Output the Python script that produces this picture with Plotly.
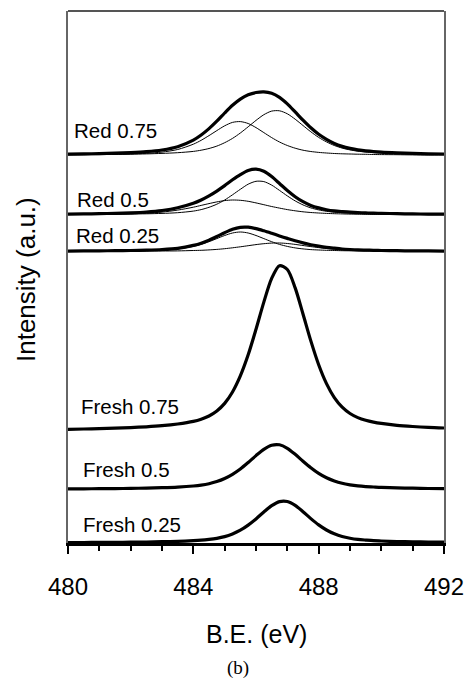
import plotly.graph_objects as go

# Binding energy grid (eV)
be = [480.0, 480.5, 481.0, 481.5, 482.0, 482.5, 483.0, 483.5,
      484.0, 484.25, 484.5, 484.75, 485.0, 485.25, 485.5, 485.75,
      486.0, 486.25, 486.5, 486.75, 487.0, 487.25, 487.5, 487.75,
      488.0, 488.25, 488.5, 488.75, 489.0, 489.25, 489.5, 489.75,
      490.0, 490.5, 491.0, 491.5, 492.0]

# Intensities (a.u.)
fresh_075 = [1.7, 2.0, 2.4, 2.8, 3.4, 4.2, 5.3, 7.0,
             9.6, 11.8, 15.0, 20.0, 27.6, 39.0, 55.1, 76.2,
             101.7, 128.9, 152.6, 165.3, 161.5, 143.1, 117.0, 90.1,
             66.3, 47.4, 33.4, 23.8, 17.5, 13.4, 10.7, 8.9,
             7.6, 5.7, 4.5, 3.6, 3.0]
fresh_05 = [0.6, 0.7, 0.8, 0.9, 1.1, 1.4, 1.8, 2.4,
            3.5, 4.4, 5.8, 7.9, 11.0, 15.2, 20.5, 27.0,
            33.9, 40.2, 44.3, 44.7, 41.2, 35.2, 28.3, 21.8,
            16.1, 11.7, 8.5, 6.2, 4.7, 3.6, 2.9, 2.5,
            2.1, 1.6, 1.3, 1.0, 0.9]
fresh_025 = [0.4, 0.5, 0.6, 0.7, 0.8, 1.0, 1.3, 1.7,
             2.3, 2.8, 3.6, 4.7, 6.4, 9.1, 12.8, 17.9,
             24.1, 31.0, 37.3, 41.4, 41.5, 37.6, 31.3, 24.4,
             18.1, 13.0, 9.2, 6.5, 4.8, 3.6, 2.9, 2.3,
             2.0, 1.5, 1.2, 0.9, 0.8]

red075_env = [1.4, 1.6, 1.9, 2.3, 2.9, 3.8, 5.5, 8.8,
              15.4, 20.5, 26.9, 34.3, 42.5, 50.2, 56.4, 60.7,
              63.0, 63.7, 62.3, 58.2, 51.7, 43.6, 35.3, 27.7,
              21.2, 16.1, 12.0, 9.1, 7.1, 5.6, 4.7, 3.9,
              3.3, 2.6, 2.1, 1.7, 1.5]
red075_c1 = [0.7, 0.8, 1.0, 1.2, 1.6, 2.2, 3.4, 6.0,
             11.3, 15.2, 19.9, 24.9, 29.7, 33.1, 33.9, 32.0,
             27.9, 22.9, 17.9, 13.5, 10.0, 7.3, 5.3, 4.0,
             3.1, 2.5, 2.0, 1.7, 1.5, 1.3, 1.2, 1.0,
             0.9, 0.8, 0.6, 0.5, 0.5]
red075_c2 = [0.7, 0.8, 0.9, 1.1, 1.3, 1.6, 2.1, 2.8,
             4.1, 5.3, 7.0, 9.4, 12.8, 17.1, 22.5, 28.7,
             35.1, 40.8, 44.4, 44.7, 41.7, 36.3, 30.0, 23.7,
             18.1, 13.6, 10.0, 7.4, 5.6, 4.3, 3.5, 2.9,
             2.4, 1.8, 1.5, 1.2, 1.0]

red05_env = [0.9, 1.1, 1.3, 1.7, 2.2, 3.0, 4.5, 7.2,
             11.7, 15.0, 19.1, 23.9, 29.4, 35.2, 40.4, 44.5,
             45.8, 43.7, 38.4, 31.5, 24.5, 18.3, 13.3, 9.6,
             7.1, 5.3, 4.1, 3.4, 2.8, 2.4, 2.1, 1.8,
             1.7, 1.3, 1.1, 0.9, 0.8]
red05_c1 = [0.5, 0.6, 0.7, 0.9, 1.2, 1.8, 2.9, 4.9,
            7.8, 9.6, 11.4, 13.1, 14.4, 15.0, 14.7, 13.7,
            12.1, 10.3, 8.5, 6.9, 5.4, 4.2, 3.2, 2.5,
            2.0, 1.6, 1.3, 1.1, 0.9, 0.8, 0.7, 0.6,
            0.6, 0.5, 0.4, 0.3, 0.3]
red05_c2 = [0.4, 0.5, 0.6, 0.8, 1.0, 1.2, 1.6, 2.3,
            3.9, 5.4, 7.7, 10.8, 15.0, 20.2, 25.7, 30.8,
            33.7, 33.4, 29.9, 24.6, 19.1, 14.1, 10.1, 7.1,
            5.1, 3.7, 2.8, 2.3, 1.9, 1.6, 1.4, 1.2,
            1.1, 0.8, 0.7, 0.6, 0.5]

red025_env = [0.4, 0.6, 0.7, 0.8, 1.0, 1.4, 2.0, 3.2,
              6.1, 8.3, 11.4, 15.0, 18.8, 22.2, 24.2, 24.3,
              22.9, 20.7, 18.2, 15.6, 13.1, 10.7, 8.6, 6.8,
              5.4, 4.2, 3.3, 2.5, 2.0, 1.6, 1.4, 1.2,
              1.0, 0.8, 0.6, 0.6, 0.4]
red025_c1 = [0.3, 0.4, 0.5, 0.6, 0.7, 1.0, 1.5, 2.6,
             5.1, 7.1, 9.8, 12.9, 16.0, 18.5, 19.5, 18.5,
             16.0, 12.9, 9.8, 7.1, 5.1, 3.6, 2.6, 1.9,
             1.5, 1.2, 1.0, 0.8, 0.7, 0.6, 0.6, 0.5,
             0.5, 0.4, 0.3, 0.3, 0.2]
red025_c2 = [0.1, 0.2, 0.2, 0.2, 0.3, 0.4, 0.5, 0.6,
             1.0, 1.2, 1.6, 2.1, 2.8, 3.7, 4.7, 5.8,
             6.9, 7.8, 8.4, 8.5, 8.0, 7.1, 6.0, 4.9,
             3.9, 3.0, 2.3, 1.7, 1.3, 1.0, 0.8, 0.7,
             0.5, 0.4, 0.3, 0.3, 0.2]

# vertical stacking offsets (a.u.)
offsets = {"Fresh 0.25": 0.0, "Fresh 0.5": 53.5, "Fresh 0.75": 112.0,
           "Red 0.25": 291.5, "Red 0.5": 328.0, "Red 0.75": 387.5}

labels = ["Red 0.75", "Red 0.5", "Red 0.25", "Fresh 0.75", "Fresh 0.5", "Fresh 0.25"]

x_ticks = [480, 484, 488, 492]

# ---------------------------------------------------------------
THICK = 3.2
THIN = 1.0
FONT = "Liberation Sans, Arial, sans-serif"

fig = go.Figure()

def add(vals, off, width):
    fig.add_trace(go.Scatter(
        x=be, y=[v + off for v in vals], mode="lines",
        line=dict(color="black", width=width, shape="spline", smoothing=0.8),
        hoverinfo="skip", showlegend=False))

# thin fitted components
add(red075_c1, offsets["Red 0.75"], THIN)
add(red075_c2, offsets["Red 0.75"], THIN)
add(red05_c1, offsets["Red 0.5"], THIN)
add(red05_c2, offsets["Red 0.5"], THIN)
add(red025_c1, offsets["Red 0.25"], THIN)
add(red025_c2, offsets["Red 0.25"], THIN)

# thick spectra
add(red075_env, offsets["Red 0.75"], THICK)
add(red05_env, offsets["Red 0.5"], THICK)
add(red025_env, offsets["Red 0.25"], THICK)
add(fresh_075, offsets["Fresh 0.75"], THICK)
add(fresh_05, offsets["Fresh 0.5"], THICK)
add(fresh_025, offsets["Fresh 0.25"], THICK)

# label placement (x in eV, y in a.u.)
label_pos = {"Red 0.75": (480.12, 412.5), "Red 0.5": (480.21, 343.5),
             "Red 0.25": (480.18, 307.3), "Fresh 0.75": (480.36, 136.5),
             "Fresh 0.5": (480.42, 73.3), "Fresh 0.25": (480.42, 18.1)}
for lab in labels:
    lx, ly = label_pos[lab]
    fig.add_annotation(x=lx, y=ly, text=lab, showarrow=False,
                       xanchor="left", yanchor="middle",
                       font=dict(family=FONT, size=20.5, color="black"))

fig.add_annotation(x=0.5, y=-0.171, xref="paper", yref="paper",
                   text="B.E. (eV)", showarrow=False, xanchor="center", yanchor="middle",
                   font=dict(family=FONT, size=25, color="black"))
fig.add_annotation(x=-0.112, y=0.496, xref="paper", yref="paper",
                   text="Intensity (a.u.)", showarrow=False, textangle=-90,
                   xanchor="center", yanchor="middle",
                   font=dict(family=FONT, size=26, color="black"))
fig.add_annotation(x=(238 - 68) / 376, y=(543 - 668) / 532, xref="paper", yref="paper",
                   text="(b)", showarrow=False, xanchor="center", yanchor="middle",
                   font=dict(family="Liberation Serif, Times New Roman, serif", size=19, color="black"))

# top border
fig.add_shape(type="line", xref="paper", yref="paper", x0=0, x1=1, y0=1, y1=1,
              line=dict(color="#555555", width=2))

fig.update_xaxes(range=[480, 492], tickvals=x_ticks, ticktext=[str(t) for t in x_ticks],
                 ticks="outside", ticklen=8, tickwidth=2, tickcolor="black",
                 ticklabelstandoff=12, automargin=False,
                 minor=dict(dtick=1, ticks="outside", ticklen=5, tickwidth=2, tickcolor="black"),
                 showline=True, linewidth=3, linecolor="black",
                 showgrid=False, zeroline=False,
                 tickfont=dict(family=FONT, size=24, color="black"))
fig.update_yaxes(range=[0, 532], showticklabels=False, ticks="", automargin=False,
                 showline=True, mirror=True, linewidth=1.5, linecolor="#666666",
                 showgrid=False, zeroline=False)

fig.update_layout(width=466, height=678, margin=dict(l=68, r=22, t=11, b=135),
                  plot_bgcolor="white", paper_bgcolor="white", showlegend=False)

fig.write_html("out.html")
